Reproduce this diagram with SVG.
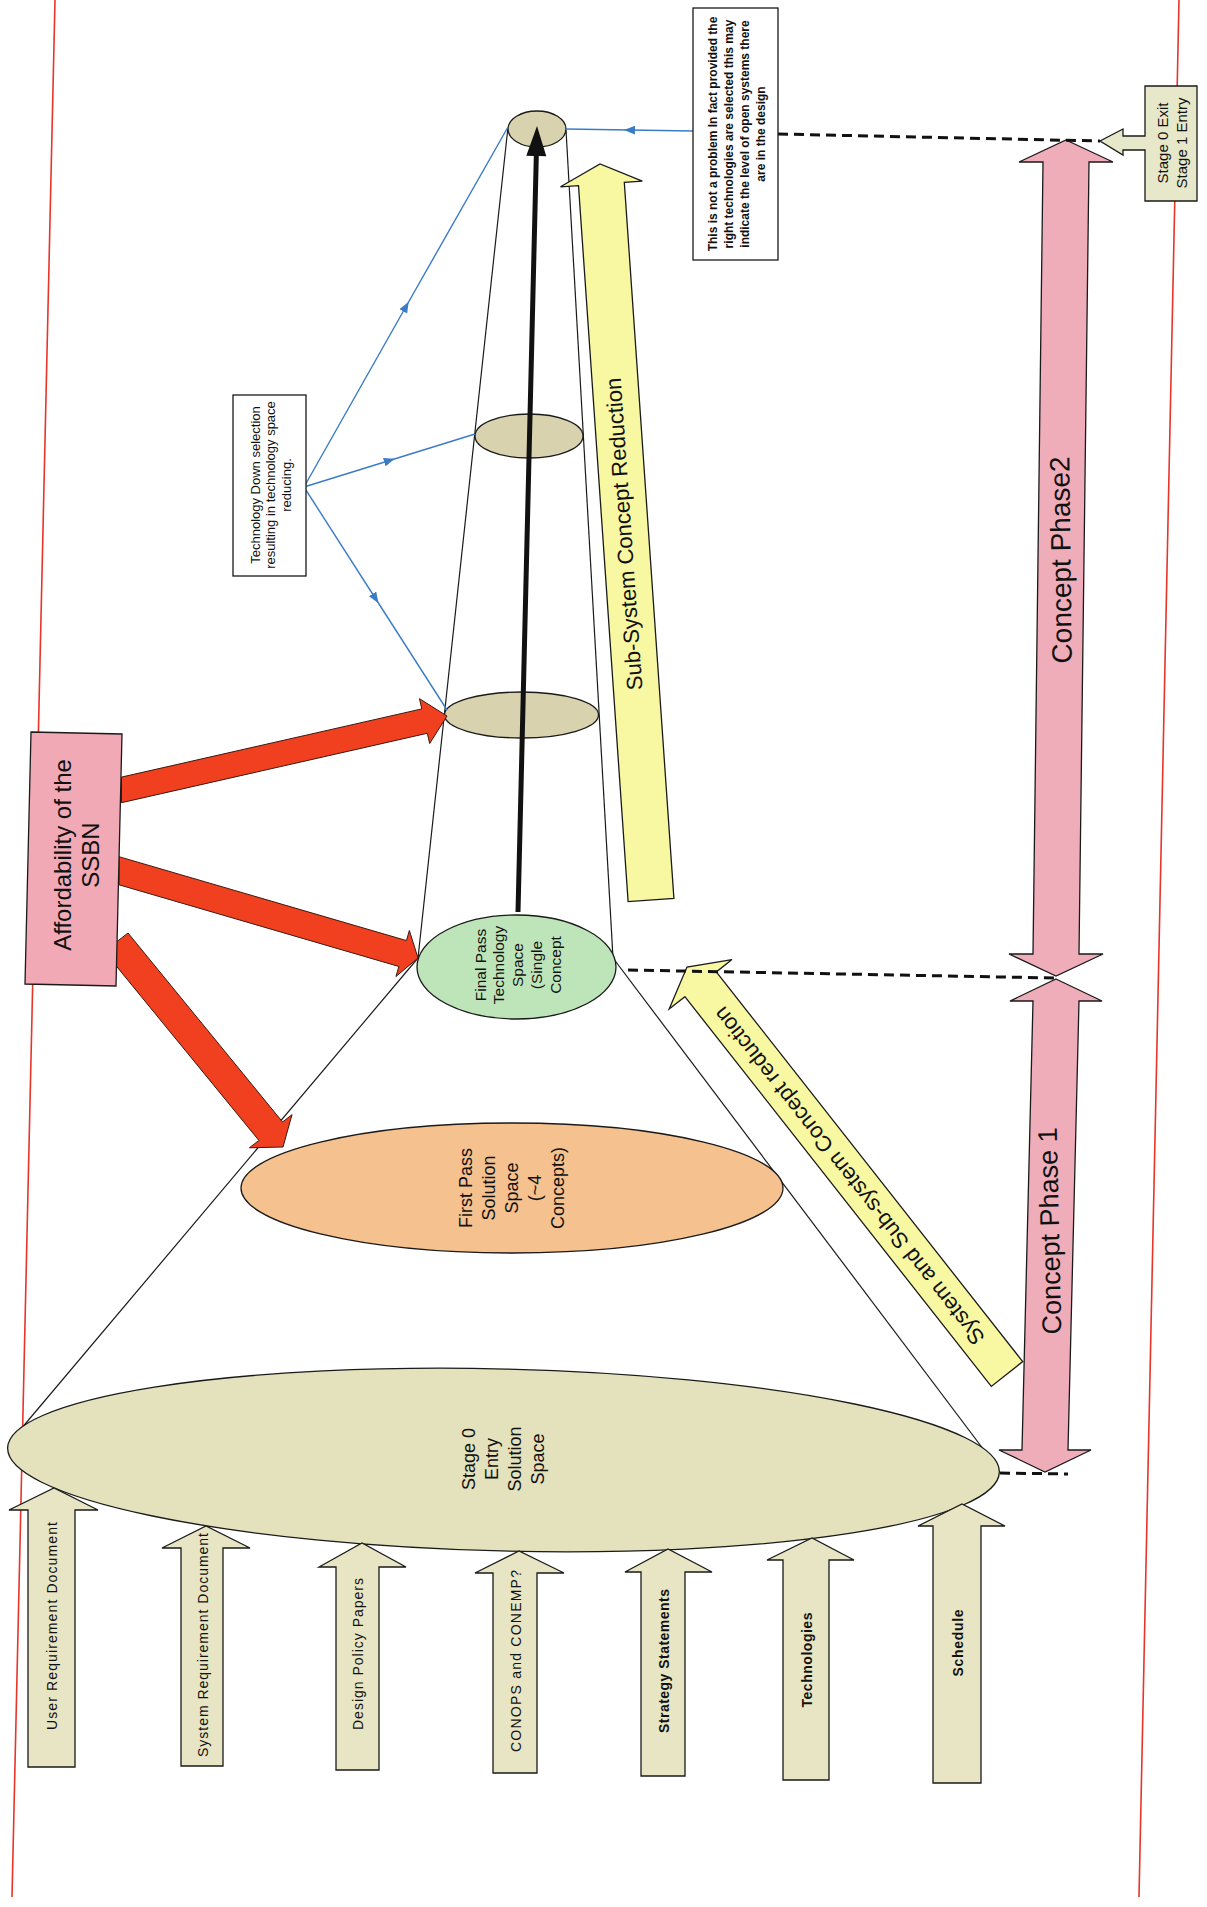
<svg xmlns="http://www.w3.org/2000/svg" width="1207" height="1907" viewBox="0 0 1207 1907">
<defs>
<style>
.t{font-family:"Liberation Sans",Arial,sans-serif;fill:#111;text-anchor:middle;dominant-baseline:central}
.b{font-weight:bold}
.ol{stroke:#1a1a1a;stroke-width:1.3}
.khaki{fill:#e7e5c3}
.tan{fill:#d9d2ae}
.yel{fill:#f9f8a2}
.pink{fill:#efadba}
.red{fill:#f1401f;stroke:#3a1a10;stroke-width:1}
.blue{fill:none;stroke:#3a7bc8;stroke-width:1.4}
.dash{fill:none;stroke:#111;stroke-width:3;stroke-dasharray:10 6}
.funnel{fill:none;stroke:#1a1a1a;stroke-width:1.2}
.border{fill:none;stroke:#e8352a;stroke-width:1.6}
</style>
<marker id="bArr" viewBox="0 0 10 8" refX="5" refY="4" markerWidth="11" markerHeight="9" markerUnits="userSpaceOnUse" orient="auto">
<path d="M0,0 L10,4 L0,8 z" fill="#3a7bc8"/>
</marker>
</defs>
<rect width="1207" height="1907" fill="#ffffff"/>

<g id="page-borders">
<line class="border" x1="55" y1="0" x2="12" y2="1897"/>
<line class="border" x1="1179" y1="0" x2="1139" y2="1897"/>
</g>

<g id="funnel">
<line class="funnel" x1="508" y1="127" x2="418" y2="958"/>
<line class="funnel" x1="566" y1="130" x2="613" y2="958"/>
<line class="funnel" x1="418" y1="958" x2="10" y2="1442"/>
<line class="funnel" x1="613" y1="958" x2="999" y2="1470"/>
</g>

<g id="node-top-ellipse">
<ellipse class="tan ol" cx="537" cy="129" rx="29" ry="18"/>
</g>
<g id="node-mid-ellipse-1">
<ellipse class="tan ol" cx="529" cy="436" rx="54" ry="22"/>
</g>
<g id="node-mid-ellipse-2">
<ellipse class="tan ol" cx="521.5" cy="715" rx="77" ry="23"/>
</g>

<g id="node-final-pass">
<ellipse class="ol" fill="#bde5b9" cx="516.5" cy="967" rx="99.5" ry="52"/>
<text class="t" font-size="15.5" transform="translate(480,965) rotate(-90)">Final Pass</text>
<text class="t" font-size="15.5" transform="translate(498.5,965) rotate(-90)">Technology</text>
<text class="t" font-size="15.5" transform="translate(517,965) rotate(-90)">Space</text>
<text class="t" font-size="15.5" transform="translate(536,965) rotate(-90)">(Single</text>
<text class="t" font-size="15.5" transform="translate(555,965) rotate(-90)">Concept</text>
</g>

<g id="node-first-pass">
<ellipse class="ol" fill="#f4c18f" cx="512" cy="1188" rx="271" ry="65"/>
<text class="t" font-size="18" transform="translate(466,1188) rotate(-90)">First Pass</text>
<text class="t" font-size="18" transform="translate(489,1188) rotate(-90)">Solution</text>
<text class="t" font-size="18" transform="translate(512,1188) rotate(-90)">Space</text>
<text class="t" font-size="18" transform="translate(535,1188) rotate(-90)">(~4</text>
<text class="t" font-size="18" transform="translate(558,1188) rotate(-90)">Concepts)</text>
</g>

<g id="node-stage0-entry">
<ellipse class="ol" fill="#e4e2bc" cx="503.5" cy="1460" rx="496" ry="91" transform="rotate(1.4 503.5 1460)"/>
<text class="t" font-size="18" transform="translate(469,1459) rotate(-90)">Stage 0</text>
<text class="t" font-size="18" transform="translate(492,1459) rotate(-90)">Entry</text>
<text class="t" font-size="18" transform="translate(515,1459) rotate(-90)">Solution</text>
<text class="t" font-size="18" transform="translate(538,1459) rotate(-90)">Space</text>
</g>

<g id="node-subsystem-reduction">
<polygon class="yel ol" points="673.9,898.4 624.3,182.4 642.3,181.2 600,164 560.5,186.8 578.5,185.6 628.1,901.6"/>
<text class="t" font-size="22" transform="translate(624,534) rotate(-94)">Sub-System Concept Reduction</text>
</g>

<g id="node-system-subsystem-reduction">
<polygon class="yel ol" points="1022.7,1361.6 716.3,971.9 732,959.6 687,967 669.2,1009 684.9,996.7 991.3,1386.4"/>
<text class="t" font-size="22" transform="translate(849,1176) rotate(-128.2)">System and Sub-system Concept reduction</text>
</g>

<g id="node-concept-phase-2">
<polygon class="pink ol" points="1066,140 1113,162 1089,162 1079,954 1103,954 1056,976 1009,954 1033,954 1043,162 1019,162"/>
<text class="t" font-size="28" transform="translate(1061,560) rotate(-90.7)">Concept Phase2</text>
</g>

<g id="node-concept-phase-1">
<polygon class="pink ol" points="1056,979 1102,1001 1079,1001 1068,1450 1091,1450 1045,1472 999,1450 1022,1450 1033,1001 1010,1001"/>
<text class="t" font-size="27" transform="translate(1050,1231) rotate(-91.3)">Concept Phase 1</text>
</g>

<g id="connectors">
<polygon class="red" points="121.5,777.1 421.8,708.9 419.48,698.66 447,716 429.66,743.52 427.34,733.28 121.5,802.7"/>
<polygon class="red" points="119,856.7 406.42,940.56 409.36,930.48 418,958 395.92,976.56 398.86,966.48 119,884.8"/>
<polygon class="red" points="128,933 282.56,1122 292.03,1114.63 283,1147 249.41,1147.79 258.88,1140.42 104.3,951.4"/>
<path class="blue" d="M304,487 L406,306.5 L508,127" marker-mid="url(#bArr)"/>
<path class="blue" d="M304,487 L389.5,460.5 L475,434" marker-mid="url(#bArr)"/>
<path class="blue" d="M304,487 L375.5,598.5 L447,710" marker-mid="url(#bArr)"/>
<path class="blue" d="M693,131 L629.5,130 L566,129" marker-mid="url(#bArr)"/>
<polygon fill="#111" points="520.5,912.1 538.8,156.1 546.3,156.2 537,126 526.3,155.8 533.8,155.9 515.5,911.9"/>
<line class="dash" x1="778" y1="134" x2="1100" y2="141"/>
<line class="dash" x1="628" y1="970" x2="1056" y2="978"/>
<line class="dash" x1="1000" y1="1473" x2="1068" y2="1474"/>
</g>

<g id="node-affordability">
<polygon class="ol" fill="#f0a9b5" points="31,732 122,734 116,986 25,984"/>
<text class="t" font-size="24" transform="translate(62,855) rotate(-90)">Affordability of the</text>
<text class="t" font-size="24" transform="translate(90,855) rotate(-90)">SSBN</text>
</g>

<g id="node-tech-down-selection">
<rect class="ol" fill="#ffffff" x="233" y="395" width="73" height="181"/>
<text class="t" font-size="13" transform="translate(255,485) rotate(-90)">Technology Down selection</text>
<text class="t" font-size="13" transform="translate(270.5,485) rotate(-90)">resulting in technology space</text>
<text class="t" font-size="13" transform="translate(286,485) rotate(-90)">reducing.</text>
</g>

<g id="node-note">
<rect class="ol" fill="#ffffff" x="693" y="8" width="85" height="252"/>
<text class="t b" font-size="12" transform="translate(713,134) rotate(-90)">This is not a problem In fact provided the</text>
<text class="t b" font-size="12" transform="translate(729,134) rotate(-90)">right technologies are selected this may</text>
<text class="t b" font-size="12" transform="translate(745,134) rotate(-90)">indicate the level of open systems there</text>
<text class="t b" font-size="12" transform="translate(761,134) rotate(-90)">are in the design</text>
</g>

<g id="node-stage-exit">
<polygon class="ol" fill="#e6e8c9" points="1145,86 1197,86 1197,201 1145,201 1145,150 1123,150 1123,155 1100,141 1123,129 1123,136 1145,136"/>
<text class="t" font-size="15" transform="translate(1162,143) rotate(-90)">Stage 0 Exit</text>
<text class="t" font-size="15" transform="translate(1181,143) rotate(-90)">Stage 1 Entry</text>
</g>

<g id="node-user-req">
<polygon class="khaki ol" points="28,1767 28,1510 9,1510 54,1488 98,1510 75,1510 75,1767"/>
<text class="t" font-size="14" textLength="208" transform="translate(52,1626) rotate(-90)">User Requirement Document</text>
</g>
<g id="node-system-req">
<polygon class="khaki ol" points="181,1766 181,1548 162,1548 206,1526 250,1548 223,1548 223,1766"/>
<text class="t" font-size="14" textLength="224" transform="translate(203,1645) rotate(-90)">System Requirement Document</text>
</g>
<g id="node-design-policy">
<polygon class="khaki ol" points="336,1770 336,1567 319,1567 362,1543 406,1567 379,1567 379,1770"/>
<text class="t" font-size="14" textLength="152" transform="translate(358,1654) rotate(-90)">Design Policy Papers</text>
</g>
<g id="node-conops">
<polygon class="khaki ol" points="493,1773 493,1573 475,1573 519,1551 564,1573 537,1573 537,1773"/>
<text class="t" font-size="14" textLength="182" transform="translate(516,1661) rotate(-90)">CONOPS and CONEMP?</text>
</g>
<g id="node-strategy">
<polygon class="khaki ol" points="641,1776 641,1572 625,1572 668,1549 712,1572 685,1572 685,1776"/>
<text class="t b" font-size="14" textLength="144" transform="translate(664,1661) rotate(-90)">Strategy Statements</text>
</g>
<g id="node-technologies">
<polygon class="khaki ol" points="783,1780 783,1560 767,1560 812,1538 854,1560 829,1560 829,1780"/>
<text class="t b" font-size="14" textLength="95" transform="translate(807,1660) rotate(-90)">Technologies</text>
</g>
<g id="node-schedule">
<polygon class="khaki ol" points="933,1783 933,1526 918,1526 962,1504 1005,1526 981,1526 981,1783"/>
<text class="t b" font-size="14" textLength="67" transform="translate(958,1643) rotate(-90)">Schedule</text>
</g>
</svg>
